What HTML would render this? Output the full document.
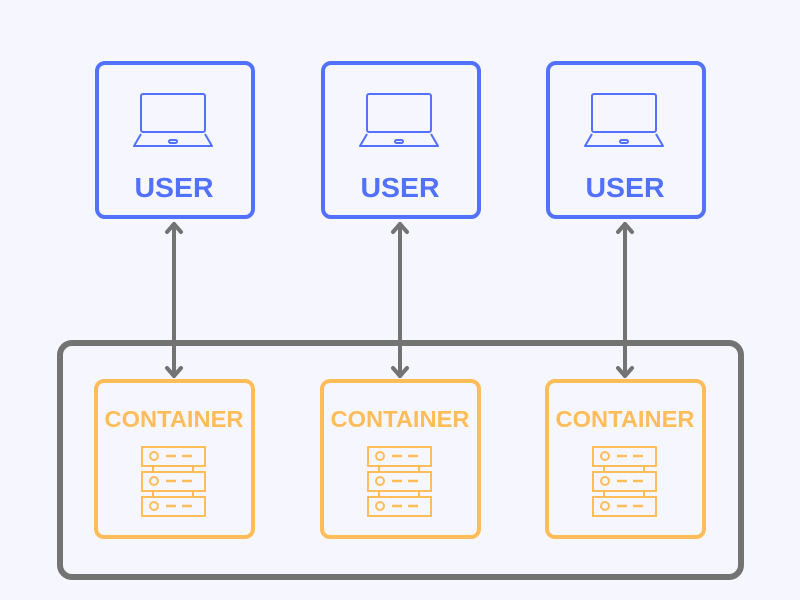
<!DOCTYPE html>
<html><head><style>
body{margin:0;background:#f5f6fe;}
svg{display:block}
</style></head><body>
<svg width="800" height="600" viewBox="0 0 800 600" xmlns="http://www.w3.org/2000/svg">
<rect width="800" height="600" fill="#f5f6fe"/>
<rect x="60" y="343" width="681" height="234" rx="12" fill="none" stroke="#737373" stroke-width="6"/>
<g id="col">
 <rect x="97" y="63" width="156" height="154" rx="8" fill="none" stroke="#5271ff" stroke-width="4"/>
 <g fill="none" stroke="#5271ff" stroke-width="2" stroke-linejoin="round">
  <rect x="141" y="94" width="64" height="38" rx="2"/>
  <path d="M141 134 L134 146 L212 146 L205 134"/>
  <rect x="169" y="140" width="8" height="3" rx="1.5"/>
 </g>
 <text x="174" y="197" text-anchor="middle" font-family="Liberation Sans, sans-serif" font-weight="bold" font-size="28" fill="#5271ff" textLength="79" lengthAdjust="spacingAndGlyphs">USER</text>
 <rect x="96" y="381" width="157" height="156" rx="8" fill="none" stroke="#ffbd59" stroke-width="4"/>
 <text x="174" y="427" text-anchor="middle" font-family="Liberation Sans, sans-serif" font-weight="bold" font-size="23" fill="#ffbd59" textLength="139" lengthAdjust="spacingAndGlyphs">CONTAINER</text>
 <g fill="none" stroke="#ffbd59" stroke-width="2">
  <rect x="142" y="447" width="63" height="19"/>
  <rect x="142" y="472" width="63" height="19"/>
  <rect x="142" y="497" width="63" height="19"/>
  <path d="M153 466v6M193 466v6M153 491v6M193 491v6"/>
  <circle cx="154" cy="456" r="4"/><circle cx="154" cy="481" r="4"/><circle cx="154" cy="506" r="4"/>
  <path d="M166 456h10M182 456h10M166 481h10M182 481h10M166 506h10M182 506h10" stroke-width="2.5"/>
 </g>
 <g stroke="#737373" stroke-width="4" fill="none" stroke-linecap="round" stroke-linejoin="round">
  <path d="M174 224 V376"/>
  <path d="M167 232 L174 224 L181 232"/>
  <path d="M167 368 L174 376 L181 368"/>
 </g>
</g>
<use href="#col" x="226"/>
<use href="#col" x="451"/>
</svg>
</body></html>
